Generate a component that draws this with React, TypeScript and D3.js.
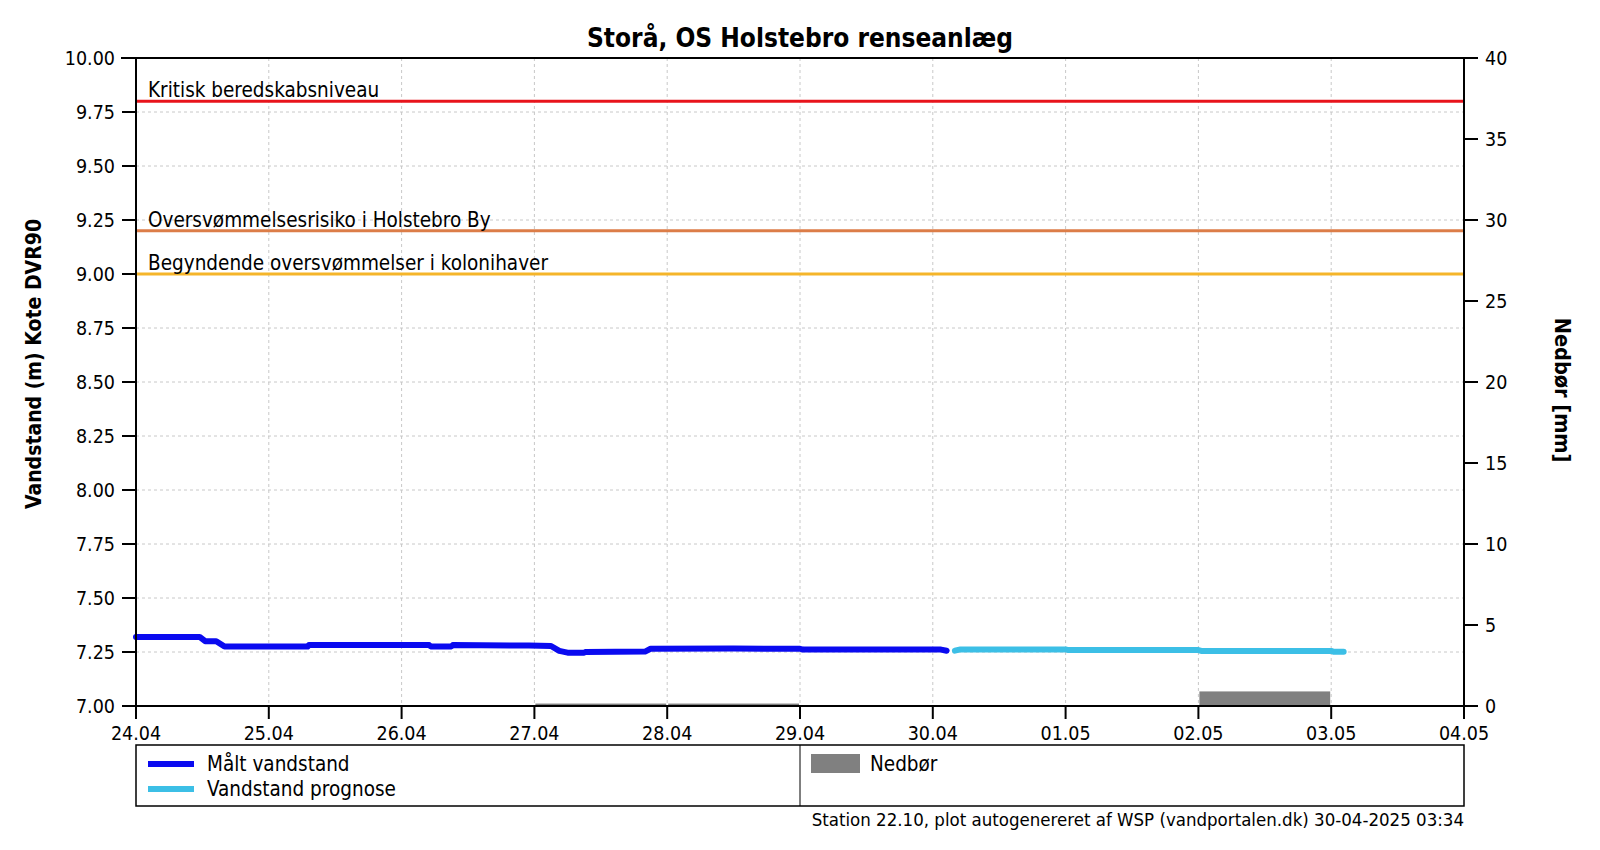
import React from "react";
import * as d3 from "d3";

const TITLE = "Storå, OS Holstebro renseanlæg";
const Y_LABEL = "Vandstand (m) Kote DVR90";
const Y2_LABEL = "Nedbør [mm]";
const FOOTER = "Station 22.10, plot autogenereret af WSP (vandportalen.dk) 30-04-2025 03:34";

const X_START = "2025-04-24 00:00";
const X_END = "2025-05-04 00:00";
const X_TICKS = ["2025-04-24", "2025-04-25", "2025-04-26", "2025-04-27", "2025-04-28", "2025-04-29", "2025-04-30", "2025-05-01", "2025-05-02", "2025-05-03", "2025-05-04"];
const Y_TICKS = [7.0, 7.25, 7.5, 7.75, 8.0, 8.25, 8.5, 8.75, 9.0, 9.25, 9.5, 9.75, 10.0];
const Y2_TICKS = [0, 5, 10, 15, 20, 25, 30, 35, 40];

const measuredTimes = [
  "2025-04-24 00:00", "2025-04-24 11:30", "2025-04-24 12:30", "2025-04-24 14:30", "2025-04-24 16:00",
  "2025-04-25 07:00", "2025-04-25 07:15", "2025-04-26 05:00", "2025-04-26 05:15", "2025-04-26 09:00",
  "2025-04-26 09:15", "2025-04-26 23:00", "2025-04-27 03:00", "2025-04-27 04:30", "2025-04-27 06:00",
  "2025-04-27 09:00", "2025-04-27 09:15", "2025-04-27 20:00", "2025-04-27 21:00", "2025-04-28 12:00",
  "2025-04-29 00:00", "2025-04-29 00:30", "2025-04-30 01:30", "2025-04-30 02:30",
];
const measuredValues = [
  7.32, 7.32, 7.30, 7.30, 7.275,
  7.275, 7.282, 7.282, 7.276, 7.276,
  7.282, 7.28, 7.278, 7.255, 7.247,
  7.247, 7.25, 7.252, 7.265, 7.266,
  7.265, 7.261, 7.261, 7.256,
];

const forecastTimes = [
  "2025-04-30 04:00", "2025-04-30 05:00", "2025-05-01 00:00", "2025-05-01 00:30",
  "2025-05-02 00:00", "2025-05-02 00:30", "2025-05-03 00:00", "2025-05-03 00:30", "2025-05-03 02:15",
];
const forecastValues = [7.256, 7.262, 7.262, 7.259, 7.259, 7.255, 7.255, 7.251, 7.251];

const rainStarts = ["2025-04-27", "2025-04-28", "2025-05-02"];
const rainEnds = ["2025-04-28", "2025-04-29", "2025-05-03"];
const rainValues = [0.15, 0.15, 0.9];

const thresholdLabels = ["Kritisk beredskabsniveau", "Oversvømmelsesrisiko i Holstebro By", "Begyndende oversvømmelser i kolonihaver"];
const thresholdValues = [9.8, 9.2, 9.0];
const thresholdColors = ["#e8141c", "#dc7d48", "#f5b52a"];

const legendLabels = ["Målt vandstand", "Vandstand prognose"];
const legendColors = ["#0a0af0", "#3cbfe6"];
const RAIN_LABEL = "Nedbør";

const FONT = "'DejaVu Sans Condensed', 'DejaVu Sans', sans-serif";

const parseTime = d3.timeParse("%Y-%m-%d %H:%M");
const parseDay = d3.timeParse("%Y-%m-%d");
const fmtTick = d3.timeFormat("%d.%m");

export default function App() {
  const W = 1600, H = 850;
  const left = 136, right = 1464, top = 58, bottom = 706;

  const x = d3.scaleTime().domain([parseTime(X_START)!, parseTime(X_END)!]).range([left, right]);
  const y = d3.scaleLinear().domain([7, 10]).range([bottom, top]);
  const y2 = d3.scaleLinear().domain([0, 40]).range([bottom, top]);

  const measured = measuredTimes.map((t, i) => ({ t: parseTime(t)!, v: measuredValues[i] }));
  const forecast = forecastTimes.map((t, i) => ({ t: parseTime(t)!, v: forecastValues[i] }));
  const line = d3.line<{ t: Date; v: number }>().x(d => x(d.t)).y(d => y(d.v));

  const xTicks = X_TICKS.map(s => parseDay(s)!);

  const legTop = 745, legBottom = 806, legMid = 800;

  return (
    <svg width={W} height={H} style={{ position: "absolute", left: 0, top: 0, background: "#fff" }} fontFamily={FONT}>
      <rect x={0} y={0} width={W} height={H} fill="#fff" />
      {/* title */}
      <text x={800} y={47} textAnchor="middle" fontSize={26} fontWeight="bold">{TITLE}</text>

      {/* grid */}
      {xTicks.slice(1, -1).map((d, i) => (
        <line key={"gx" + i} x1={x(d)} x2={x(d)} y1={top} y2={bottom} stroke="#c8c8c8" strokeDasharray="3,3" />
      ))}
      {Y_TICKS.slice(1, -1).map((v, i) => (
        <line key={"gy" + i} x1={left} x2={right} y1={y(v)} y2={y(v)} stroke="#c8c8c8" strokeDasharray="3,3" />
      ))}

      {/* rain bars */}
      {rainValues.map((v, i) => {
        const x0 = x(parseDay(rainStarts[i])!);
        const x1 = x(parseDay(rainEnds[i])!);
        return <rect key={"r" + i} x={x0 + 1} y={y2(v)} width={x1 - x0 - 2} height={bottom - y2(v)} fill="#808080" />;
      })}

      {/* thresholds */}
      {thresholdValues.map((v, i) => (
        <g key={"th" + i}>
          <line x1={left} x2={right} y1={y(v)} y2={y(v)} stroke={thresholdColors[i]} strokeWidth={3} />
          <text x={left + 12} y={y(v) - 4} fontSize={20.5} fill="#000">{thresholdLabels[i]}</text>
        </g>
      ))}

      {/* series */}
      <path d={line(measured) || ""} fill="none" stroke={legendColors[0]} strokeWidth={6} strokeLinecap="round" strokeLinejoin="round" />
      <path d={line(forecast) || ""} fill="none" stroke={legendColors[1]} strokeWidth={6} strokeLinecap="round" strokeLinejoin="round" />

      {/* frame */}
      <line x1={left - 15} x2={right} y1={top} y2={top} stroke="#000" strokeWidth={2} />
      <line x1={left} x2={left} y1={top} y2={bottom} stroke="#000" strokeWidth={2} />
      <line x1={right} x2={right} y1={top} y2={bottom} stroke="#000" strokeWidth={2} />
      <line x1={left} x2={right} y1={bottom} y2={bottom} stroke="#000" strokeWidth={2} />

      {/* left axis */}
      {Y_TICKS.map((v, i) => (
        <g key={"yl" + i}>
          <line x1={left - 14} x2={left} y1={y(v)} y2={y(v)} stroke="#000" strokeWidth={2} />
          <text x={left - 21} y={y(v) + 7} textAnchor="end" fontSize={19.5}>{v.toFixed(2)}</text>
        </g>
      ))}
      {/* right axis */}
      {Y2_TICKS.map((v, i) => (
        <g key={"yr" + i}>
          <line x1={right} x2={right + 14} y1={y2(v)} y2={y2(v)} stroke="#000" strokeWidth={2} />
          <text x={right + 21} y={y2(v) + 7} textAnchor="start" fontSize={19.5}>{v}</text>
        </g>
      ))}
      {/* x axis */}
      {xTicks.map((d, i) => (
        <g key={"xt" + i}>
          <line x1={x(d)} x2={x(d)} y1={bottom} y2={bottom + 13} stroke="#000" strokeWidth={2} />
          <text x={x(d)} y={bottom + 34} textAnchor="middle" fontSize={19.5}>{fmtTick(d)}</text>
        </g>
      ))}

      {/* axis titles */}
      <text transform={`translate(41,364) rotate(-90)`} textAnchor="middle" fontSize={21} fontWeight="bold">{Y_LABEL}</text>
      <text transform={`translate(1555,390) rotate(90)`} textAnchor="middle" fontSize={21.5} fontWeight="bold">{Y2_LABEL}</text>

      {/* legend */}
      <rect x={left} y={legTop} width={right - left} height={legBottom - legTop} fill="none" stroke="#000" strokeWidth={1.5} />
      <line x1={legMid} x2={legMid} y1={legTop} y2={legBottom} stroke="#000" strokeWidth={1} />
      {legendLabels.map((lab, i) => (
        <g key={"lg" + i}>
          <line x1={148} x2={194} y1={764 + i * 25} y2={764 + i * 25} stroke={legendColors[i]} strokeWidth={6} />
          <text x={207} y={771 + i * 25} fontSize={20.5}>{lab}</text>
        </g>
      ))}
      <rect x={811} y={754} width={49} height={19} fill="#808080" />
      <text x={870} y={771} fontSize={20.5}>{RAIN_LABEL}</text>

      {/* footer */}
      <text x={right} y={826} textAnchor="end" fontSize={18.5}>{FOOTER}</text>
    </svg>
  );
}
